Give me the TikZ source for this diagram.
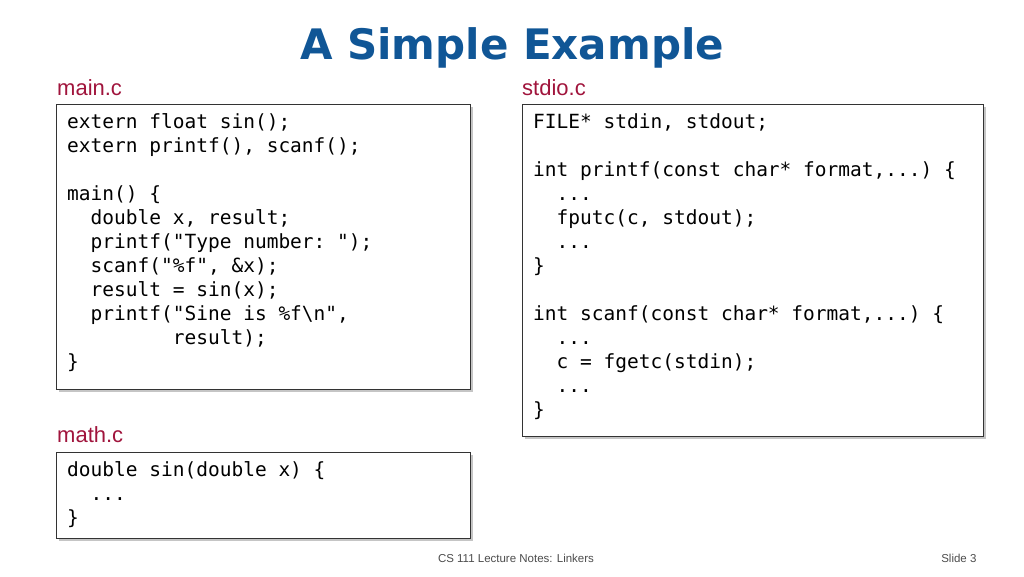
\documentclass[tikz,border=0pt]{standalone}
\usepackage{fontspec}
\setmainfont{Liberation Sans}
\setmonofont{DejaVu Sans Mono}
\newfontfamily\titlefont{DejaVu Sans}
\usetikzlibrary{shadows}
\definecolor{ttl}{RGB}{16,86,150}
\definecolor{lbl}{RGB}{160,20,60}
\tikzset{
 codebox/.style={draw=black!80,line width=0.8pt,fill=white,drop shadow={shadow xshift=3pt,shadow yshift=-3pt,fill=black!45}},
 code/.style={anchor=north west,align=left,inner sep=0pt,font=\fontsize{19.5}{24}\selectfont\ttfamily},
 lab/.style={anchor=west,inner sep=0pt,text=lbl,font=\fontsize{22}{24}\selectfont}
}
\begin{document}
\begin{tikzpicture}[x=1pt,y=-1pt]
\useasboundingbox (0,0) rectangle (1024,576);
\node[text=ttl,font=\fontsize{42}{46}\selectfont\titlefont\bfseries] (title) at (512,48) {A Simple Example};
\node[lab] (l1) at (57,88) {main.c};
\node[lab] (l2) at (522,88) {stdio.c};
\node[lab] (l3) at (57,435) {math.c};
\path[codebox] (56,104) rectangle (470,389);
\path[codebox] (522,104) rectangle (983,436);
\path[codebox] (56,452) rectangle (470,538);
\node[code] (c1) at (67,113) {extern float sin();\\extern printf(), scanf();\\[24pt]main() \{\\\ \ double x, result;\\\ \ printf("Type number: ");\\\ \ scanf("\%f", \&x);\\\ \ result = sin(x);\\\ \ printf("Sine is \%f\textbackslash n",\\\ \ \ \ \ \ \ \ \ result);\\\}};
\node[code] (c2) at (533,113) {FILE* stdin, stdout;\\[24pt]int printf(const char* format,...) \{\\\ \ ...\\\ \ fputc(c, stdout);\\\ \ ...\\\}\\[24pt]int scanf(const char* format,...) \{\\\ \ ...\\\ \ c = fgetc(stdin);\\\ \ ...\\\}};
\node[code] (c3) at (67,461) {double sin(double x) \{\\\ \ ...\\\}};
\node[font=\fontsize{11.5}{13}\selectfont,text=black!70] (foot) at (516,558) {CS 111 Lecture Notes: Linkers};
\node[font=\fontsize{11.5}{13}\selectfont,text=black!70,anchor=east] (slide) at (980,558) {Slide 3};
\end{tikzpicture}
\end{document}
